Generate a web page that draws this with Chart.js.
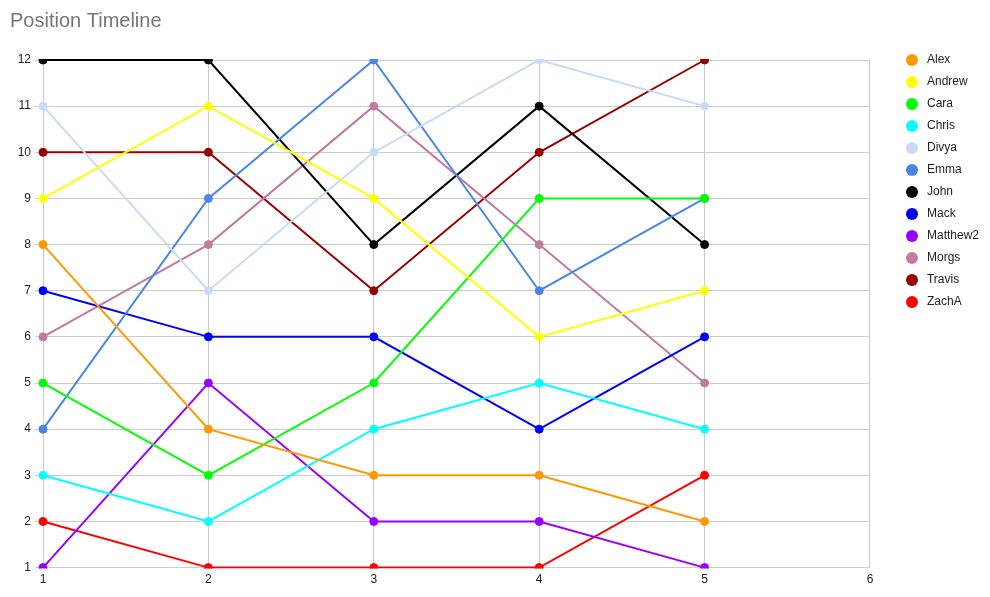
<!DOCTYPE html>
<html><head><meta charset="utf-8">
<script src="https://cdn.jsdelivr.net/npm/chart.js@4"></script>
<style>html,body{margin:0;padding:0;background:#fff}#wrap{width:990px;height:597px;position:relative}</style>
</head><body><div id="wrap"><canvas id="c"></canvas></div>
<script>
const chartTitle = 'Position Timeline';
const rounds = [1, 2, 3, 4, 5];
const xTicks = [1, 2, 3, 4, 5, 6];
const yTicks = [1, 2, 3, 4, 5, 6, 7, 8, 9, 10, 11, 12];
const names = ['Alex', 'Andrew', 'Cara', 'Chris', 'Divya', 'Emma', 'John', 'Mack', 'Matthew2', 'Morgs', 'Travis', 'ZachA'];
const colors = ['#ff9900', '#ffff00', '#00ff00', '#00ffff', '#c9daf8', '#4a86e8', '#000000', '#0000ff', '#9900ff', '#c27ba0', '#990000', '#ff0000'];
const Alex = [8, 4, 3, 3, 2];
const Andrew = [9, 11, 9, 6, 7];
const Cara = [5, 3, 5, 9, 9];
const Chris = [3, 2, 4, 5, 4];
const Divya = [11, 7, 10, 12, 11];
const Emma = [4, 9, 12, 7, 9];
const John = [12, 12, 8, 11, 8];
const Mack = [7, 6, 6, 4, 6];
const Matthew2 = [1, 5, 2, 2, 1];
const Morgs = [6, 8, 11, 8, 5];
const Travis = [10, 10, 7, 10, 12];
const ZachA = [2, 1, 1, 1, 3];
const seriesValues = [Alex, Andrew, Cara, Chris, Divya, Emma, John, Mack, Matthew2, Morgs, Travis, ZachA];

const FONT = 'Arial, "Liberation Sans", sans-serif';

function legendDot(color) {
  const c = document.createElement('canvas');
  c.width = 41; c.height = 12;
  const g = c.getContext('2d');
  g.fillStyle = color;
  g.beginPath();
  g.arc(32, 6, 6, 0, Math.PI * 2);
  g.fill();
  return c;
}
const dots = colors.map(legendDot);

const datasets = names.map((n, i) => ({
  label: n,
  data: rounds.map((x, j) => ({ x: x, y: seriesValues[i][j] })),
  borderColor: colors[i],
  backgroundColor: colors[i],
  pointBackgroundColor: colors[i],
  pointBorderColor: colors[i],
  borderWidth: 2,
  pointRadius: 4,
  pointBorderWidth: 1,
  tension: 0,
  clip: { left: false, right: false, top: 1, bottom: 1 }
}));

new Chart(document.getElementById('c'), {
  type: 'line',
  data: { datasets },
  options: {
    responsive: true,
    maintainAspectRatio: false,
    animation: false,
    layout: { padding: { left: 10, right: 1, top: 0, bottom: 5 } },
    plugins: {
      tooltip: { enabled: false },
      title: {
        display: true,
        text: chartTitle,
        align: 'start',
        color: '#757575',
        font: { family: FONT, size: 20, weight: 'normal' },
        padding: { top: 9, bottom: 27 }
      },
      legend: {
        position: 'right',
        align: 'start',
        title: { display: true, text: '', padding: { top: 29.6, bottom: 0 }, font: { size: 12 } },
        labels: {
          usePointStyle: true,
          pointStyleWidth: 41,
          boxHeight: 12,
          padding: 10,
          color: '#222222',
          font: { family: FONT, size: 12 },
          generateLabels: (chart) => {
            const items = Chart.defaults.plugins.legend.labels.generateLabels(chart);
            items.forEach(it => { it.pointStyle = dots[it.datasetIndex]; it.lineWidth = 0; });
            return items;
          }
        }
      }
    },
    scales: {
      x: {
        type: 'linear',
        min: xTicks[0],
        max: xTicks[xTicks.length - 1],
        afterBuildTicks: (a) => { a.ticks = xTicks.map(v => ({ value: v })); },
        grid: { color: '#cccccc', drawTicks: false },
        border: { color: '#cccccc' },
        ticks: { color: '#222222', padding: 5, font: { family: FONT, size: 12 } }
      },
      y: {
        type: 'linear',
        min: yTicks[0],
        max: yTicks[yTicks.length - 1],
        afterBuildTicks: (a) => { a.ticks = yTicks.map(v => ({ value: v })); },
        afterFit: (a) => { a.width = 33; },
        grid: { color: '#cccccc', drawTicks: true, tickLength: 8 },
        border: { color: '#cccccc' },
        ticks: { color: '#222222', padding: 4, font: { family: FONT, size: 12 } }
      }
    }
  }
});
</script>
</body></html>
